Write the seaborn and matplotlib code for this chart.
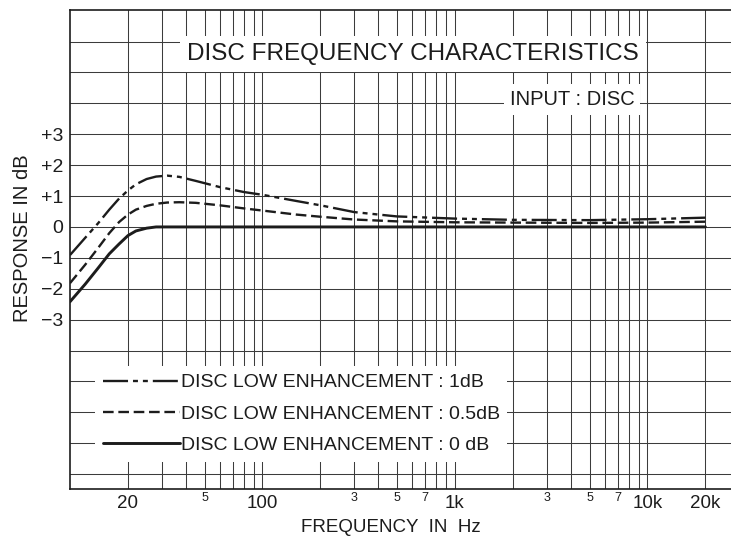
import numpy as np
import pandas as pd
import matplotlib
matplotlib.use("Agg")
import matplotlib.pyplot as plt
import seaborn as sns

# ---- data ----
freq_hz = [10, 12, 14, 16, 18, 20, 22, 25, 28, 32, 37, 45, 60, 80, 100,
           150, 200, 300, 500, 1000, 2000, 5000, 10000, 20000]
resp_1db = [-0.91, -0.35, 0.12, 0.56, 0.92, 1.18, 1.38, 1.55, 1.63, 1.66, 1.62,
            1.49, 1.29, 1.13, 1.04, 0.84, 0.70, 0.48, 0.34, 0.27, 0.23, 0.22, 0.25, 0.30]
resp_05db = [-1.82, -1.22, -0.68, -0.20, 0.16, 0.40, 0.56, 0.68, 0.75, 0.79, 0.80,
             0.78, 0.70, 0.60, 0.53, 0.40, 0.33, 0.24, 0.18, 0.15, 0.14, 0.13, 0.14, 0.17]
resp_0db = [-2.42, -1.85, -1.33, -0.87, -0.55, -0.28, -0.13, -0.04, 0.0, 0.0, 0.0,
            0.0, 0.0, 0.0, 0.0, 0.0, 0.0, 0.0, 0.0, 0.0, 0.0, 0.0, 0.0, 0.0]
series_labels = ["DISC LOW ENHANCEMENT : 1dB",
                 "DISC LOW ENHANCEMENT : 0.5dB",
                 "DISC LOW ENHANCEMENT : 0 dB"]

ytick_vals = [-3, -2, -1, 0, 1, 2, 3]
ytick_labels = ["\u22123", "\u22122", "\u22121", "0", "+1", "+2", "+3"]
xmajor_vals = [20, 100, 1000, 10000, 20000]
xmajor_labels = ["20", "100", "1k", "10k", "20k"]
xminor_vals = [50, 300, 500, 700, 3000, 5000, 7000]
xminor_labels = ["5", "3", "5", "7", "3", "5", "7"]

# ---- style ----
sns.set_style("white")
plt.rcParams["font.family"] = ["Liberation Sans", "DejaVu Sans"]
ink = "#1c1c1c"

fig = plt.figure(figsize=(7.31, 5.37), dpi=100)
ax = fig.add_axes([70 / 731, 1 - 489 / 537, 661 / 731, 479 / 537])
ax.set_xscale("log")
ax.set_xlim(10, 27170)
ax.set_ylim(-8.48, 7.02)

# grid (chart paper)
grid_freqs = ([f for f in range(20, 100, 10)] + [f for f in range(100, 1000, 100)]
              + [f for f in range(1000, 10000, 1000)] + [10000, 20000])
for f in grid_freqs:
    ax.axvline(f, color="#3c3c3c", lw=0.75, zorder=0.5)
for yv in range(-8, 7):
    ax.axhline(yv, color="#3c3c3c", lw=0.75, zorder=0.5)

df = pd.DataFrame({"freq": freq_hz, "r1": resp_1db, "r05": resp_05db, "r0": resp_0db})
sns.lineplot(data=df, x="freq", y="r1", ax=ax, color=ink, lw=1.7,
             linestyle=(0, (10.6, 2.1, 2.1, 2.1, 2.1, 2.1)), label=series_labels[0], zorder=3)
sns.lineplot(data=df, x="freq", y="r05", ax=ax, color=ink, lw=1.7,
             linestyle=(0, (4.5, 2.0)), label=series_labels[1], zorder=3)
sns.lineplot(data=df, x="freq", y="r0", ax=ax, color=ink, lw=2.1,
             linestyle="-", label=series_labels[2], zorder=3)

# spines
for s in ["left", "bottom", "top"]:
    ax.spines[s].set_visible(True)
    ax.spines[s].set_color(ink)
    ax.spines[s].set_linewidth(1.2)
ax.spines["right"].set_visible(False)

# ticks
ax.set_yticks(ytick_vals)
ax.set_yticklabels(ytick_labels)
ax.tick_params(axis="y", length=0, pad=5, labelsize=14, labelcolor=ink)
ax.set_xticks(xmajor_vals)
ax.set_xticklabels(xmajor_labels)
ax.set_xticks(xminor_vals, minor=True)
ax.set_xticklabels(xminor_labels, minor=True)
ax.tick_params(axis="x", which="major", length=0, pad=4, labelsize=13.5, labelcolor=ink)
ax.tick_params(axis="x", which="minor", length=0, pad=2, labelsize=9, labelcolor=ink)

ax.set_xlabel("FREQUENCY  IN  Hz", fontsize=13.5, color=ink)
ax.xaxis.set_label_coords(0.4856, -0.062)
ax.set_ylabel("RESPONSE IN dB", fontsize=14.5, color=ink)
ax.yaxis.set_label_coords(-0.0575, 0.524)

# titles inside the chart
ax.text(0.519, 0.8956, "DISC FREQUENCY CHARACTERISTICS", transform=ax.transAxes,
        ha="center", va="baseline", fontsize=17.5, color=ink, zorder=4,
        bbox=dict(facecolor="white", edgecolor="none", pad=5))
ax.text(0.7595, 0.8017, "INPUT : DISC", transform=ax.transAxes,
        ha="center", va="baseline", fontsize=14.5, color=ink, zorder=4,
        bbox=dict(facecolor="white", edgecolor="none", pad=4))

# legend
handles, labels = ax.get_legend_handles_labels()
leg = ax.legend(handles, labels, loc="upper left", bbox_to_anchor=(0.0378, 0.2568),
                borderaxespad=0, frameon=True, fancybox=False, framealpha=1,
                facecolor="white", edgecolor="none", fontsize=14,
                handlelength=3.95, handletextpad=0.05, labelspacing=0.7, borderpad=0.4)
for t in leg.get_texts():
    t.set_color(ink)

fig.savefig("out.png", dpi=100)
